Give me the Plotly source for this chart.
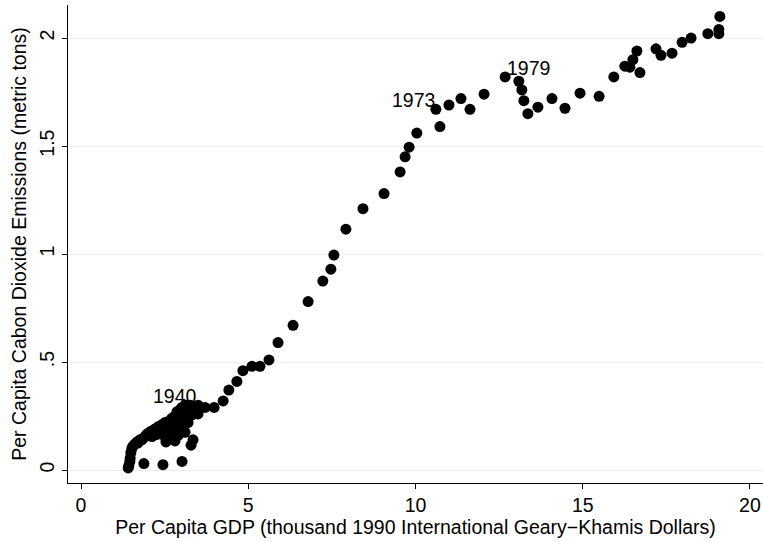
import plotly.graph_objects as go

# Per capita GDP (thousand 1990 GK $) and per capita carbon emissions (metric tons)
gdp = [
    1.41, 1.43, 1.46, 1.47, 1.49, 1.52, 1.55, 1.61, 1.67, 1.70, 1.76, 1.82, 1.88, 1.94,
    2.00, 2.09, 2.12, 2.21, 2.27, 2.30, 2.36, 2.42, 2.51, 2.51, 2.54, 2.57, 2.60, 2.66,
    2.66, 2.72, 2.75, 2.78, 2.81, 2.81, 2.84, 2.87, 2.90, 2.90, 2.96, 3.02, 3.02, 3.05,
    3.11, 3.11, 3.11, 3.17, 3.20, 3.20, 3.26, 3.29, 3.32, 3.32, 3.35, 3.41, 3.50, 3.50,
    1.88, 2.45, 3.02,
    3.71, 3.98, 4.25, 4.42, 4.66, 4.84, 5.11, 5.35, 5.62, 5.89, 6.34, 6.79, 7.23, 7.47,
    7.56, 7.92, 8.43, 9.06, 9.54, 9.69, 9.81, 10.04, 10.61, 10.73, 11.00, 11.36, 11.63,
    12.05, 12.68, 13.09, 13.18, 13.24, 13.36, 13.66, 14.08, 14.47, 14.92, 15.49, 15.93,
    16.26, 16.41, 16.50, 16.62, 16.71, 17.19, 17.34, 17.67, 17.97, 18.24, 18.74, 19.07,
    19.07, 19.10,
]
co2 = [
    0.010, 0.020, 0.040, 0.055, 0.080, 0.100, 0.110, 0.120, 0.130, 0.125, 0.140, 0.140, 0.150, 0.160,
    0.170, 0.180, 0.155, 0.190, 0.165, 0.200, 0.175, 0.210, 0.220, 0.155, 0.130, 0.195, 0.220, 0.230,
    0.185, 0.240, 0.150, 0.210, 0.250, 0.135, 0.195, 0.270, 0.220, 0.160, 0.280, 0.290, 0.200, 0.245,
    0.300, 0.240, 0.175, 0.300, 0.270, 0.220, 0.300, 0.115, 0.280, 0.255, 0.140, 0.290, 0.300, 0.260,
    0.030, 0.025, 0.040,
    0.290, 0.290, 0.320, 0.370, 0.410, 0.460, 0.480, 0.480, 0.510, 0.590, 0.670, 0.780, 0.875, 0.930,
    0.995, 1.115, 1.210, 1.280, 1.380, 1.450, 1.495, 1.560, 1.670, 1.590, 1.690, 1.720, 1.670,
    1.740, 1.820, 1.800, 1.760, 1.710, 1.650, 1.680, 1.720, 1.675, 1.745, 1.730, 1.820,
    1.870, 1.865, 1.900, 1.940, 1.840, 1.950, 1.920, 1.930, 1.980, 2.000, 2.020, 2.020,
    2.040, 2.100,
]

# labelled years: (text, index of the point, side)
label_text = ["1940", "1973", "1979"]
label_idx = [54, 81, 87]
label_side = ["left", "left", "right"]

x_ticks = [0, 5, 10, 15, 20]
y_ticks = [0, 0.5, 1, 1.5, 2]
y_ticktext = ["0", ".5", "1", "1.5", "2"]

FONT = "Liberation Sans, Arial, Helvetica, sans-serif"
FS = 19.5

fig = go.Figure()
fig.add_trace(go.Scatter(
    x=gdp, y=co2, mode="markers",
    marker=dict(color="black", size=11, line=dict(width=0)),
    showlegend=False,
))

for t, i, side in zip(label_text, label_idx, label_side):
    fig.add_annotation(
        x=gdp[i], y=co2[i], text=t, showarrow=False,
        xanchor="right" if side == "left" else "left",
        yanchor="middle", yshift=9, xshift=0 if side == "left" else 1,
        font=dict(family=FONT, size=FS, color="black"),
        borderpad=0,
    )

fig.update_layout(
    width=763, height=542,
    margin=dict(l=68, r=0, t=5, b=59),
    paper_bgcolor="white", plot_bgcolor="white",
    font=dict(family=FONT, size=FS, color="black"),
    xaxis=dict(
        range=[-0.389, 20.39], tickvals=x_ticks,
        showline=True, linecolor="black", linewidth=1,
        ticks="outside", ticklen=5, tickcolor="black",
        showgrid=False, zeroline=False, automargin=False,
        tickfont=dict(family=FONT, size=FS, color="black"),
        title=dict(text="Per Capita GDP (thousand 1990 International Geary\u2212Khamis Dollars)",
                   font=dict(family=FONT, size=FS, color="black"), standoff=0),
    ),
    yaxis=dict(
        range=[-0.060, 2.153], tickvals=y_ticks, ticktext=y_ticktext,
        tickangle=-90,
        showline=True, linecolor="black", linewidth=1,
        ticks="outside", ticklen=5, tickcolor="black",
        showgrid=True, gridcolor="#e8eff1", gridwidth=1, zeroline=False, automargin=False,
        tickfont=dict(family=FONT, size=FS, color="black"),
        title=dict(text="Per Capita Cabon Dioxide Emissions (metric tons)",
                   font=dict(family=FONT, size=FS, color="black"), standoff=4),
    ),
)

fig.write_html(
    "out.html",
    config={"displayModeBar": False},
    post_script="document.body.style.margin='0';document.body.style.padding='0';",
)
